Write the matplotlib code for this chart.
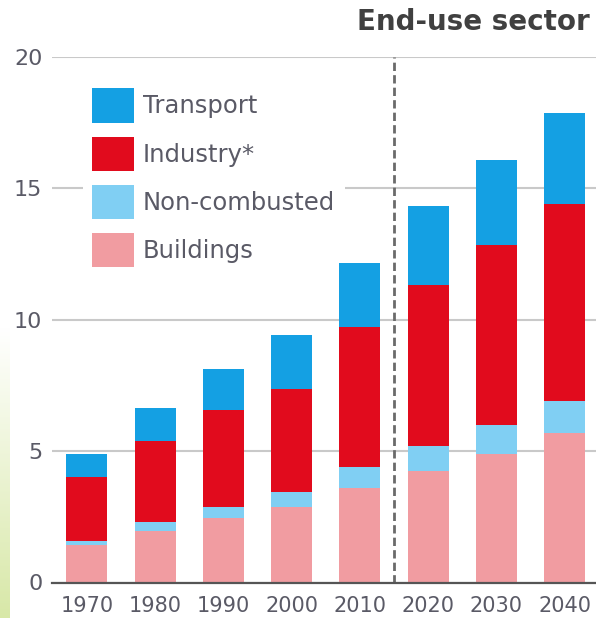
import numpy as np
import matplotlib as mpl
mpl.use('Agg')
import matplotlib.pyplot as plt

# ==== data ====
years = ['1970', '1980', '1990', '2000', '2010', '2020', '2030', '2040']
buildings = [1.41, 1.97, 2.46, 2.86, 3.58, 4.23, 4.89, 5.68]
noncombusted = [0.18, 0.34, 0.40, 0.57, 0.82, 0.97, 1.11, 1.22]
industry = [2.41, 3.06, 3.72, 3.95, 5.33, 6.14, 6.86, 7.50]
transport = [0.89, 1.29, 1.54, 2.03, 2.42, 2.98, 3.23, 3.46]

names = ['Buildings', 'Non-combusted', 'Industry*', 'Transport']
colors = ['#f19ca1', '#80cff3', '#e10b1d', '#14a0e3']
yticks = [0, 5, 10, 15, 20]

# ==== figure ====
fig = plt.figure(figsize=(5.96, 6.18), dpi=100)

# faint green strip on the left edge of the scan (greener towards bottom)
strip = fig.add_axes([0, 0, 0.016, 0.47])
grad = np.linspace(0, 1, 100).reshape(-1, 1)
strip.imshow(grad, aspect='auto', origin='lower',
             cmap=mpl.colors.LinearSegmentedColormap.from_list('g', ['#d8e8a8', '#ffffff']),
             extent=[0, 1, 0, 1])
strip.axis('off')

ax = fig.add_axes([52/596, 35.5/618, 544/596, 525.5/618])

x = np.arange(len(years))
bottom = np.zeros(len(years))
bars = []
for vals, name, c in zip([buildings, noncombusted, industry, transport], names, colors):
    b = ax.bar(x, vals, width=0.6, bottom=bottom, color=c, label=name, zorder=3)
    bars.append(b)
    bottom += np.array(vals)

# dashed separator between history and projection
ax.axvline(4.5, color='#6a6a6a', ls=(0, (3, 1.5)), lw=2, zorder=4)

ax.set_xlim(-0.51, 7.46)
ax.set_ylim(0, 20)
ax.set_yticks(yticks)
ax.set_xticks(x)
ax.set_xticklabels(years)
ax.yaxis.grid(True, color='#c9c9c9', lw=1.5, zorder=0)
ax.set_axisbelow(True)
for s in ['top', 'right', 'left']:
    ax.spines[s].set_visible(False)
ax.spines['bottom'].set_color('#555555')
ax.spines['bottom'].set_linewidth(1.6)
ax.spines['bottom'].set_zorder(5)
ax.tick_params(axis='y', length=0, pad=7, labelsize=16, labelcolor='#5a5a66')
ax.tick_params(axis='x', length=0, pad=10, labelsize=15, labelcolor='#5a5a66')

# legend, reversed so transport is on top; white box hides gridline but sits under bars
leg = ax.legend(bars[::-1], names[::-1], loc='upper left', bbox_to_anchor=(0.057, 0.958),
                fontsize=17.5, frameon=True, fancybox=False, facecolor='white', edgecolor='none',
                framealpha=1, handlelength=1.71, handleheight=1.8, labelspacing=0.57,
                handletextpad=0.38, borderpad=0.38, borderaxespad=0)
leg.set_zorder(2.5)
for t in leg.get_texts():
    t.set_color('#5a5a66')

fig.text(0.99, 0.965, 'End-use sector', ha='right', va='center', fontsize=20,
         fontweight='bold', color='#404040')

fig.savefig('out.png', dpi=100)
